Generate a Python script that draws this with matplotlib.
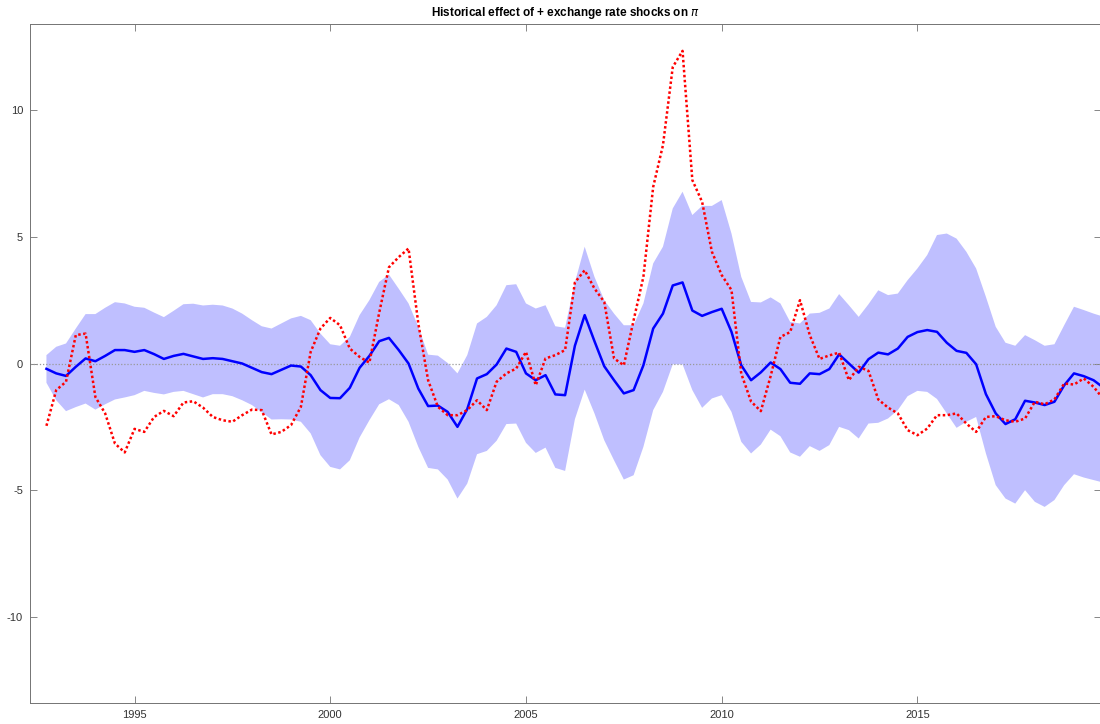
import numpy as np
import matplotlib
matplotlib.use("Agg")
import matplotlib.pyplot as plt

plt.rcParams['font.family'] = ['Liberation Sans Narrow', 'Liberation Sans', 'DejaVu Sans']
plt.rcParams['axes.unicode_minus'] = False

# quarterly historical decomposition, starting 1992Q4
start_year = 1992.75

hd_median = [-0.21, -0.39, -0.49, -0.13, 0.20, 0.09, 0.30, 0.53, 0.53, 0.46,
             0.53, 0.37, 0.18, 0.30, 0.38, 0.28, 0.18, 0.21, 0.18, 0.09,
             0.00, -0.17, -0.34, -0.42, -0.25, -0.08, -0.12, -0.46, -1.05, -1.36,
             -1.37, -0.96, -0.17, 0.30, 0.88, 1.01, 0.53, 0.00, -0.99, -1.68,
             -1.66, -1.91, -2.50, -1.80, -0.59, -0.42, -0.04, 0.59, 0.46, -0.39,
             -0.66, -0.46, -1.22, -1.25, 0.70, 1.91, 0.88, -0.11, -0.66, -1.18,
             -1.05, -0.07, 1.38, 1.97, 3.08, 3.20, 2.09, 1.88, 2.03, 2.16,
             1.25, -0.07, -0.66, -0.35, 0.04, -0.22, -0.76, -0.80, -0.39, -0.42,
             -0.22, 0.36, 0.00, -0.36, 0.17, 0.43, 0.36, 0.59, 1.05, 1.24,
             1.32, 1.25, 0.82, 0.50, 0.42, -0.03, -1.21, -1.97, -2.39, -2.20,
             -1.47, -1.54, -1.64, -1.51, -0.86, -0.39, -0.50, -0.66, -0.95]

hd_upper = [0.33, 0.66, 0.79, 1.38, 1.95, 1.95, 2.20, 2.42, 2.37, 2.24,
            2.20, 2.01, 1.83, 2.08, 2.34, 2.36, 2.29, 2.32, 2.29, 2.17,
            1.97, 1.71, 1.47, 1.38, 1.58, 1.78, 1.88, 1.71, 1.18, 0.76,
            0.70, 1.05, 1.91, 2.50, 3.22, 3.51, 2.95, 2.37, 1.45, 0.35,
            0.31, 0.02, -0.39, 0.33, 1.58, 1.84, 2.30, 3.09, 3.13, 2.37,
            2.17, 2.30, 1.47, 1.41, 3.20, 4.61, 3.42, 2.50, 1.97, 1.51,
            1.51, 2.37, 3.95, 4.61, 6.12, 6.78, 5.86, 6.22, 6.22, 6.45,
            5.13, 3.42, 2.43, 2.41, 2.61, 2.37, 1.64, 1.58, 1.97, 2.00,
            2.17, 2.74, 2.30, 1.84, 2.34, 2.89, 2.70, 2.76, 3.29, 3.75,
            4.28, 5.07, 5.13, 4.93, 4.41, 3.75, 2.63, 1.45, 0.82, 0.70,
            1.12, 0.92, 0.70, 0.76, 1.51, 2.24, 2.11, 1.97, 1.85]

hd_lower = [-0.76, -1.45, -1.88, -1.72, -1.58, -1.82, -1.61, -1.42, -1.34, -1.25,
            -1.08, -1.16, -1.22, -1.12, -1.08, -1.21, -1.34, -1.21, -1.21, -1.29,
            -1.45, -1.64, -1.92, -2.21, -2.20, -2.21, -2.30, -2.76, -3.62, -4.08,
            -4.18, -3.82, -2.92, -2.24, -1.61, -1.41, -1.64, -2.30, -3.29, -4.12,
            -4.18, -4.58, -5.33, -4.74, -3.58, -3.45, -3.05, -2.39, -2.37, -3.13,
            -3.53, -3.32, -4.12, -4.24, -2.20, -1.03, -1.97, -3.03, -3.82, -4.58,
            -4.41, -3.29, -1.84, -1.12, -0.03, -0.03, -1.05, -1.75, -1.38, -1.25,
            -1.91, -3.09, -3.55, -3.20, -2.61, -2.87, -3.51, -3.68, -3.26, -3.45,
            -3.22, -2.50, -2.63, -2.96, -2.37, -2.34, -2.17, -1.84, -1.29, -1.08,
            -1.12, -1.40, -1.97, -2.54, -2.30, -2.11, -3.55, -4.80, -5.33, -5.53,
            -5.00, -5.46, -5.66, -5.39, -4.80, -4.37, -4.50, -4.60, -4.70]

inflation = [-2.46, -1.05, -0.72, 1.12, 1.18, -1.32, -1.97, -3.16, -3.51, -2.58,
             -2.70, -2.11, -1.87, -2.08, -1.54, -1.49, -1.74, -2.11, -2.24, -2.30,
             -2.04, -1.82, -1.84, -2.80, -2.70, -2.43, -1.71, 0.46, 1.38, 1.80,
             1.51, 0.59, 0.26, 0.03, 2.00, 3.80, 4.20, 4.54, 1.58, -0.66,
             -1.71, -2.04, -2.04, -1.84, -1.45, -1.84, -0.72, -0.39, -0.20, 0.46,
             -0.86, 0.20, 0.33, 0.53, 3.20, 3.68, 2.96, 2.43, 0.20, -0.07,
             1.71, 3.42, 6.97, 8.62, 11.70, 12.34, 7.24, 6.38, 4.41, 3.49,
             2.90, -0.40, -1.50, -1.88, -0.50, 1.05, 1.24, 2.50, 1.12, 0.18,
             0.32, 0.43, -0.66, -0.13, -0.29, -1.42, -1.74, -1.97, -2.63, -2.83,
             -2.57, -2.04, -2.04, -1.97, -2.37, -2.70, -2.11, -2.08, -2.24, -2.30,
             -2.17, -1.51, -1.61, -1.42, -0.79, -0.83, -0.59, -0.92, -1.40]

xtick_years = [1995, 2000, 2005, 2010, 2015]
ytick_vals = [-10, -5, 0, 5, 10]

t = start_year + 0.25 * np.arange(len(hd_median))

fig = plt.figure(figsize=(11, 7.24), dpi=100)
ax = fig.add_axes([30 / 1100, 21 / 724, 1071 / 1100, 679 / 724])

ax.fill_between(t, hd_lower, hd_upper, facecolor=(0.75, 0.75, 1.0), edgecolor='none', lw=0)
ax.axhline(0, color='0.6', ls=(0, (1, 1.5)), lw=0.9)
ax.plot(t, hd_median, color='b', lw=1.8)
ax.plot(t, inflation, color='r', ls=(0, (1, 1)), lw=1.8)

ax.set_xlim(1992.33, 2019.69)
ax.set_ylim(-13.4, 13.4)
ax.set_xticks(xtick_years)
ax.set_yticks(ytick_vals)
ax.tick_params(direction='in', top=True, right=True, length=5, width=0.6,
               color='0.45', labelcolor='0.2', labelsize=8, pad=5)
for s in ax.spines.values():
    s.set_color('0.45')
    s.set_linewidth(0.7)

ax.set_title(r'Historical effect of + exchange rate shocks on $\pi$', fontsize=8.5,
             fontweight='bold', pad=6)

fig.savefig('out.png', dpi=100)
